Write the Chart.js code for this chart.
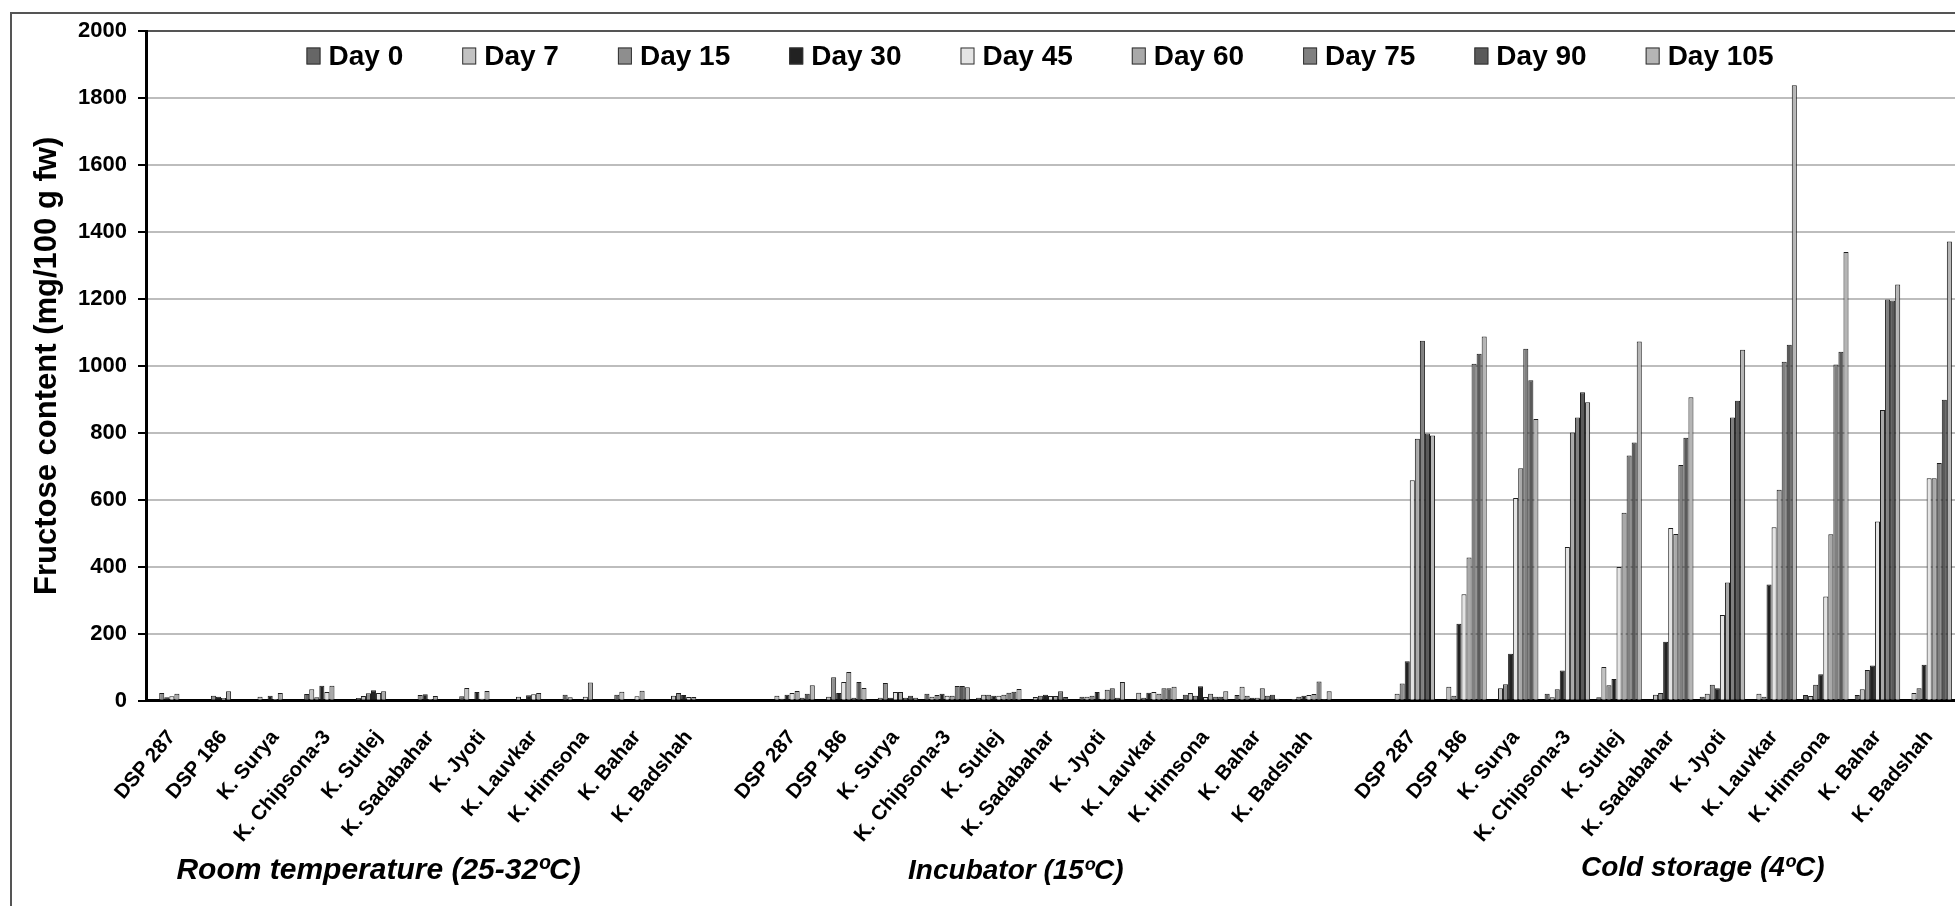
<!DOCTYPE html>
<html>
<head>
<meta charset="utf-8">
<script src="https://cdn.jsdelivr.net/npm/chart.js@4.4.1/dist/chart.umd.min.js"></script>
<style>
  html, body { margin: 0; padding: 0; background: #ffffff; overflow: hidden; }
  #wrap { width: 1955px; height: 906px; position: relative; }
</style>
</head>
<body>
<div id="wrap"><canvas id="c" width="1955" height="906"></canvas></div>
<script>
// ---------- DATA ----------
const cultivars = ['DSP 287', 'DSP 186', 'K. Surya', 'K. Chipsona-3', 'K. Sutlej', 'K. Sadabahar',
                   'K. Jyoti', 'K. Lauvkar', 'K. Himsona', 'K. Bahar', 'K. Badshah'];
const dayLabels = ['Day 0', 'Day 7', 'Day 15', 'Day 30', 'Day 45', 'Day 60', 'Day 75', 'Day 90', 'Day 105'];
const storageLabels = ['Room temperature (25-32ºC)', 'Incubator (15ºC)', 'Cold storage (4ºC)'];
const yTickValues = [0, 200, 400, 600, 800, 1000, 1200, 1400, 1600, 1800, 2000];

// rows: Day 0 ... Day 105 ; columns: cultivars (same order as above)
const roomTemp = [
  [0, 0, 0, 20, 8, 0, 13, 0, 18, 18, 0],
  [0, 0, 12, 34, 14, 0, 38, 12, 10, 27, 15],
  [23, 15, 0, 10, 22, 17, 0, 0, 0, 0, 23],
  [10, 12, 15, 45, 31, 19, 26, 16, 0, 0, 17],
  [13, 8, 5, 26, 23, 5, 6, 19, 12, 13, 11],
  [21, 28, 23, 45, 28, 14, 29, 23, 54, 30, 11],
  [null, null, null, null, null, null, null, null, null, null, null],
  [null, null, null, null, null, null, null, null, null, null, null],
  [null, null, null, null, null, null, null, null, null, null, null]
];
const incubator = [
  [0, 0, 0, 21, 9, 0, 12, 0, 18, 17, 0],
  [15, 12, 9, 12, 18, 11, 12, 24, 23, 42, 5],
  [6, 70, 53, 17, 18, 15, 15, 9, 15, 15, 12],
  [18, 23, 9, 21, 15, 18, 26, 24, 43, 9, 15],
  [23, 56, 26, 15, 15, 14, 6, 26, 11, 9, 17],
  [29, 86, 26, 15, 18, 14, 33, 21, 21, 37, 20],
  [9, 9, 9, 44, 24, 28, 37, 37, 12, 15, 57],
  [21, 56, 15, 44, 27, 11, 9, 37, 12, 18, 5],
  [46, 38, 9, 40, 35, 3, 56, 42, 28, 6, 28]
];
const coldStorage = [
  [0, 0, 0, 21, 10, 0, 12, 0, 17, 17, 0],
  [21, 42, 37, 10, 101, 18, 21, 21, 14, 34, 23],
  [51, 15, 49, 34, 46, 23, 48, 12, 48, 92, 37],
  [118, 230, 140, 90, 65, 176, 37, 347, 79, 105, 107],
  [658, 318, 605, 459, 399, 516, 256, 518, 311, 535, 664],
  [782, 428, 694, 801, 561, 498, 353, 630, 497, 868, 664],
  [1075, 1006, 1051, 846, 732, 704, 846, 1012, 1004, 1198, 710],
  [798, 1036, 957, 921, 771, 785, 896, 1063, 1042, 1195, 899],
  [792, 1088, 841, 891, 1073, 906, 1048, 1838, 1340, 1243, 1371]
];

// ---------- STYLE ----------
const dayColors = ['#666666', '#c2c2c2', '#8e8e8e', '#222222', '#e4e4e4', '#a9a9a9', '#808080', '#5a5a5a', '#b5b5b5'];
const FONT = '"Liberation Sans", Arial, Helvetica, sans-serif';
Chart.defaults.font.family = FONT;
Chart.defaults.color = '#000';

// category axis: 3 groups of cultivars separated by one empty slot
const labels = [...cultivars, '', ...cultivars, '', ...cultivars];
const groupStart = [0, cultivars.length + 1, 2 * (cultivars.length + 1)];

const datasets = dayLabels.map((d, i) => ({
  label: d,
  data: [...roomTemp[i], null, ...incubator[i], null, ...coldStorage[i]],
  backgroundColor: dayColors[i],
  borderColor: '#1e1e1e',
  borderWidth: 1,
  categoryPercentage: 0.88,
  barPercentage: 1.0
}));

const decorPlugin = {
  id: 'decor',
  beforeDraw(chart) {
    const ctx = chart.ctx;
    ctx.save();
    ctx.fillStyle = '#fff';
    ctx.fillRect(0, 0, chart.width, chart.height);
    ctx.strokeStyle = '#555';
    ctx.lineWidth = 2;
    ctx.strokeRect(11, 13, chart.width + 50, chart.height + 50);
    ctx.restore();
  },
  afterDraw(chart) {
    const ctx = chart.ctx;
    ctx.save();
    // legend inside plot
    ctx.font = 'bold 28px ' + FONT;
    ctx.textBaseline = 'middle';
    ctx.textAlign = 'left';
    const boxW = 14, boxH = 17, gap = 8, spacing = 59;
    let total = 0;
    chart.data.datasets.forEach((ds, i) => {
      total += boxW + gap + ctx.measureText(ds.label).width + (i ? spacing : 0);
    });
    let x = 1040 - total / 2;
    const y = 56;
    chart.data.datasets.forEach(ds => {
      ctx.fillStyle = ds.backgroundColor;
      ctx.fillRect(x, y - boxH / 2, boxW, boxH);
      ctx.strokeStyle = '#333';
      ctx.lineWidth = 1;
      ctx.strokeRect(x + 0.5, y - boxH / 2 + 0.5, boxW - 1, boxH - 1);
      ctx.fillStyle = '#000';
      ctx.fillText(ds.label, x + boxW + gap, y + 1);
      x += boxW + gap + ctx.measureText(ds.label).width + spacing;
    });
    // storage condition labels
    const xs = chart.scales.x;
    const step = xs.getPixelForValue(1) - xs.getPixelForValue(0);
    const offs = [4.0, 4.33, 5.62];
    const sizes = [30, 28, 28];
    const ys = [871, 871, 868];
    ctx.textAlign = 'center';
    storageLabels.forEach((t, g) => {
      ctx.font = 'italic bold ' + sizes[g] + 'px ' + FONT;
      const cx = xs.getPixelForValue(groupStart[g]) + offs[g] * step;
      ctx.fillText(t, cx, ys[g]);
    });
    ctx.restore();
  }
};

new Chart(document.getElementById('c'), {
  type: 'bar',
  data: { labels, datasets },
  options: {
    responsive: false,
    animation: false,
    devicePixelRatio: 1,
    layout: { padding: { top: 31, left: 0, right: 0, bottom: 0 } },
    plugins: { legend: { display: false }, tooltip: { enabled: false } },
    scales: {
      x: {
        grid: { display: false, drawTicks: false },
        border: { display: true, color: '#000', width: 3 },
        ticks: {
          autoSkip: false, maxRotation: 50, minRotation: 50,
          font: { size: 20.5, weight: 'bold' }, color: '#000', padding: 25
        },
        afterFit(scale) {
          scale.height = 205.3;
          scale.paddingLeft = 0;
          scale.paddingRight = 0;
        }
      },
      y: {
        min: 0, max: 2000,
        afterBuildTicks(scale) { scale.ticks = yTickValues.map(v => ({ value: v })); },
        grid: {
          color: c => (c.tick && c.tick.value === 2000) ? '#555' : '#bdbdbd',
          lineWidth: 2, drawTicks: true, tickLength: 8, tickColor: '#000', tickWidth: 2
        },
        border: { display: true, color: '#000', width: 3 },
        ticks: { font: { size: 22, weight: 'bold' }, color: '#000', padding: 11,
                 callback: v => String(v) },
        title: {
          display: true, text: 'Fructose content (mg/100 g fw)',
          font: { size: 31, weight: 'bold' }, color: '#000', padding: { top: 29, bottom: 0 }
        },
        afterFit(scale) {
          scale.width = 146;
          scale.paddingTop = 0;
          scale.paddingBottom = 0;
        }
      }
    }
  },
  plugins: [decorPlugin]
});
</script>
</body>
</html>
